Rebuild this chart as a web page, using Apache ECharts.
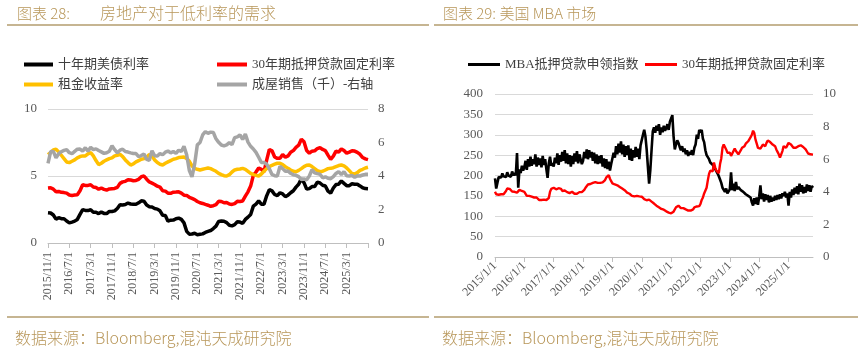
<!DOCTYPE html>
<html>
<head>
<meta charset="utf-8">
<script src="https://cdn.jsdelivr.net/npm/echarts@6/dist/echarts.min.js"></script>
<style>
  html, body { margin: 0; padding: 0; background: #fff; }
  #main { width: 863px; height: 351px; }
</style>
</head>
<body>
<div id="main"></div>
<script>
  // 图表28: 月度数据 2015/11 - 2025/11
  var treasury10y = [
    2.26, 2.24,
    2.09, 1.78, 1.89, 1.81, 1.81, 1.64, 1.50, 1.56, 1.63, 1.76, 2.14, 2.49,
    2.43, 2.42, 2.48, 2.30, 2.30, 2.19, 2.32, 2.21, 2.20, 2.36, 2.35, 2.40,
    2.58, 2.86, 2.84, 2.87, 2.98, 2.91, 2.89, 2.89, 3.00, 3.15, 3.12, 2.83,
    2.71, 2.68, 2.57, 2.53, 2.40, 2.07, 2.06, 1.63, 1.70, 1.71, 1.81, 1.86,
    1.76, 1.50, 0.87, 0.66, 0.67, 0.73, 0.62, 0.65, 0.68, 0.79, 0.87, 0.93,
    1.08, 1.26, 1.61, 1.64, 1.62, 1.52, 1.32, 1.28, 1.37, 1.58, 1.56, 1.47,
    1.76, 1.93, 2.13, 2.75, 2.90, 3.14, 2.90, 2.90, 3.52, 3.98, 3.89, 3.62,
    3.53, 3.75, 3.66, 3.46, 3.57, 3.75, 3.90, 4.17, 4.38, 4.80, 4.50, 4.02,
    4.06, 4.21, 4.21, 4.54, 4.48, 4.31, 4.25, 3.87, 3.72, 4.10, 4.36, 4.39,
    4.63, 4.45, 4.28, 4.28, 4.42, 4.38, 4.39, 4.26, 4.12, 4.06, 4.05
  ]
  var mortgageMonthly = [
    4.10, 4.12,
    4.02, 3.82, 3.85, 3.78, 3.76, 3.72, 3.58, 3.55, 3.58, 3.60, 3.90, 4.35,
    4.30, 4.30, 4.35, 4.18, 4.14, 4.02, 4.10, 4.00, 3.95, 4.03, 4.05, 4.07,
    4.15, 4.45, 4.56, 4.60, 4.72, 4.70, 4.65, 4.67, 4.75, 4.95, 5.00, 4.76,
    4.56, 4.47, 4.37, 4.24, 4.17, 3.90, 3.87, 3.72, 3.71, 3.79, 3.80, 3.82,
    3.72, 3.57, 3.55, 3.41, 3.33, 3.24, 3.10, 3.00, 2.95, 2.88, 2.82, 2.74,
    2.78, 2.86, 3.12, 3.10, 3.00, 3.02, 2.91, 2.88, 2.94, 3.11, 3.10, 3.14,
    3.50, 3.82, 4.25, 5.05, 5.30, 5.60, 5.50, 5.30, 6.18, 6.98, 6.88, 6.42,
    6.32, 6.32, 6.60, 6.40, 6.50, 6.78, 6.90, 7.14, 7.30, 7.75, 7.55, 6.90,
    6.70, 6.85, 6.88, 7.05, 7.12, 6.98, 6.90, 6.56, 6.24, 6.48, 6.86, 6.78,
    7.02, 6.90, 6.70, 6.78, 6.88, 6.86, 6.76, 6.62, 6.38, 6.28, 6.22
  ]
  var rentYield = [
    6.60, 6.75,
    6.95, 7.00, 6.80, 6.55, 6.30, 6.05, 6.00, 6.10, 6.20, 6.35, 6.45, 6.50,
    6.50, 6.65, 6.75, 6.50, 6.15, 5.85, 5.95, 6.10, 6.20, 6.30, 6.35, 6.50,
    6.55, 6.62, 6.45, 6.20, 6.00, 5.82, 5.90, 6.05, 6.15, 6.25, 6.30, 6.40,
    6.60, 6.50, 6.20, 6.00, 5.88, 5.82, 5.95, 6.05, 6.15, 6.25, 6.30, 6.38,
    6.40, 6.42, 6.30, 6.10, 5.75, 5.57, 5.50, 5.45, 5.50, 5.55, 5.60, 5.55,
    5.45, 5.35, 5.20, 5.10, 5.02, 5.00, 5.10, 5.30, 5.45, 5.50, 5.52, 5.57,
    5.50, 5.35, 5.20, 5.10, 5.05, 5.00, 5.15, 5.35, 5.55, 5.70, 5.80, 5.88,
    5.95, 5.95, 5.85, 5.70, 5.57, 5.45, 5.35, 5.32, 5.42, 5.55, 5.70, 5.80,
    5.82, 5.70, 5.55, 5.40, 5.32, 5.35, 5.45, 5.55, 5.57, 5.62, 5.70, 5.78,
    5.82, 5.75, 5.60, 5.40, 5.18, 5.15, 5.25, 5.42, 5.50, 5.60, 5.65
  ]
  var homeSales = [
    4.76, 5.46,
    5.47, 5.08, 5.33, 5.45, 5.53, 5.57, 5.39, 5.33, 5.47, 5.60, 5.61, 5.49,
    5.69, 5.48, 5.71, 5.57, 5.62, 5.52, 5.44, 5.35, 5.39, 5.48, 5.81, 5.57,
    5.38, 5.54, 5.60, 5.46, 5.43, 5.38, 5.34, 5.34, 5.15, 5.22, 5.32, 4.99,
    4.94, 5.51, 5.21, 5.19, 5.34, 5.27, 5.42, 5.49, 5.38, 5.46, 5.35, 5.54,
    5.46, 5.77, 5.27, 4.33, 3.95, 4.72, 5.86, 6.00, 6.45, 6.65, 6.55, 6.62,
    6.60, 6.22, 6.01, 5.85, 5.80, 5.86, 5.99, 5.88, 6.29, 6.34, 6.46, 6.18,
    6.50, 6.02, 5.77, 5.61, 5.41, 5.12, 4.81, 4.80, 4.71, 4.43, 4.09, 4.02,
    4.00, 4.58, 4.44, 4.28, 4.30, 4.16, 4.07, 4.04, 3.96, 3.79, 3.82, 3.78,
    4.00, 4.38, 4.19, 4.14, 4.11, 3.89, 3.95, 3.86, 3.84, 3.96, 4.15, 4.26,
    4.08, 4.26, 4.02, 4.00, 4.03, 3.93, 4.01, 4.00, 4.06, 4.10, 4.10
  ]

  // 图表29: 半月数据 2015/1/1 - 2025/11/1
  var mbaIndex = [
    193, 168, 182, 196, 200, 195, 205, 198, 202, 196, 208, 200, 204, 197, 210, 200, 206, 200, 255, 170, 215, 206, 224, 212,
    220, 236, 214, 240, 222, 246, 224, 240, 228, 252, 222, 244, 226, 242, 220, 248, 226, 240, 216, 194, 230, 246, 224, 230,
    222, 244, 230, 254, 226, 250, 234, 258, 236, 262, 230, 254, 228, 250, 222, 248, 228, 254, 234, 260, 230, 252, 240, 228,
    236, 258, 242, 264, 240, 262, 244, 258, 236, 256, 230, 252, 228, 248, 230, 250, 222, 242, 218, 240, 216, 234, 212, 228,
    228, 256, 244, 272, 252, 278, 256, 284, 252, 276, 246, 272, 250, 274, 238, 266, 236, 262, 244, 270, 246, 266, 240, 274,
    278, 300, 312, 296, 264, 222, 180, 214, 262, 308, 318, 305, 322, 310, 326, 300, 318, 306, 322, 310, 316, 326, 312, 332,
    340, 348, 296, 264, 276, 286, 280, 270, 262, 272, 258, 266, 252, 262, 248, 258, 252, 262, 250, 268, 276, 300, 290, 312,
    306, 312, 290, 282, 262, 250, 248, 240, 232, 236, 226, 222, 216, 210, 205, 198, 190, 182, 170, 166, 160, 168, 156, 152,
    166, 208, 164, 180, 162, 184, 166, 172, 168, 164, 162, 160, 156, 154, 150, 150, 146, 146, 134, 126, 144, 130, 146, 128,
    148, 176, 142, 156, 136, 154, 140, 152, 134, 150, 136, 146, 138, 150, 140, 152, 142, 154, 144, 156, 150, 160, 146, 156,
    126, 160, 146, 166, 152, 170, 156, 174, 154, 180, 160, 176, 156, 172, 158, 178, 162, 176, 160, 174, 170
  ]
  var mbaRate = [
    4.00, 3.85, 3.80, 3.82, 3.90, 3.85, 3.82, 3.85, 3.92, 4.05, 4.20, 4.22, 4.18, 4.10, 4.02, 4.00, 4.00, 3.98, 3.95, 4.00, 4.12, 4.10, 4.05, 4.08,
    4.00, 3.90, 3.75, 3.70, 3.75, 3.78, 3.70, 3.68, 3.65, 3.68, 3.65, 3.62, 3.50, 3.48, 3.50, 3.50, 3.52, 3.52, 3.50, 3.55, 3.62, 4.00, 4.18, 4.30,
    4.25, 4.18, 4.15, 4.20, 4.22, 4.25, 4.18, 4.05, 4.02, 4.08, 4.05, 3.98, 3.95, 3.92, 3.98, 4.00, 3.95, 3.88, 3.85, 3.88, 3.95, 3.98, 3.95, 3.98,
    4.02, 4.12, 4.25, 4.35, 4.45, 4.42, 4.48, 4.45, 4.55, 4.62, 4.60, 4.58, 4.55, 4.58, 4.55, 4.55, 4.58, 4.62, 4.72, 4.88, 4.98, 5.02, 4.80, 4.65,
    4.52, 4.48, 4.45, 4.42, 4.40, 4.38, 4.30, 4.25, 4.20, 4.18, 4.10, 4.02, 3.95, 3.90, 3.88, 3.80, 3.75, 3.70, 3.72, 3.75, 3.75, 3.72, 3.72, 3.74,
    3.70, 3.62, 3.55, 3.50, 3.48, 3.55, 3.52, 3.45, 3.40, 3.35, 3.28, 3.22, 3.15, 3.10, 3.05, 3.00, 2.95, 2.92, 2.90, 2.85, 2.80, 2.75, 2.72, 2.70,
    2.68, 2.75, 2.78, 2.85, 3.05, 3.15, 3.15, 3.10, 3.00, 2.98, 3.00, 2.95, 2.92, 2.88, 2.85, 2.88, 2.85, 2.88, 2.92, 3.05, 3.08, 3.10, 3.15, 3.12,
    3.25, 3.50, 3.65, 3.90, 3.95, 4.25, 4.70, 5.10, 5.30, 5.20, 5.25, 5.80, 5.50, 5.30, 5.20, 5.15, 5.70, 6.05, 6.70, 6.90, 7.00, 6.60, 6.40, 6.30,
    6.40, 6.20, 6.15, 6.50, 6.65, 6.50, 6.40, 6.30, 6.40, 6.55, 6.70, 6.75, 6.80, 6.95, 7.00, 7.10, 7.20, 7.35, 7.50, 7.75, 7.60, 7.20, 6.95, 6.70,
    6.65, 6.65, 6.70, 6.90, 6.85, 6.80, 7.00, 7.15, 7.20, 7.05, 6.95, 6.90, 6.90, 6.80, 6.60, 6.45, 6.30, 6.10, 6.15, 6.50, 6.80, 6.75, 6.70, 6.85,
    7.00, 7.05, 6.90, 6.80, 6.70, 6.65, 6.70, 6.80, 6.80, 6.85, 6.85, 6.80, 6.75, 6.70, 6.60, 6.55, 6.35, 6.30, 6.30, 6.25, 6.28
  ]

  // 日期分类
  var leftMonths = []
  for (var i = 0; i < treasury10y.length; i++) {
    var m = 10 + i
    leftMonths.push((2015 + Math.floor(m / 12)) + '/' + (m % 12 + 1) + '/1')
  }
  var rightDates = []
  for (var j = 0; j < mbaIndex.length; j++) {
    var mm = Math.floor(j / 2)
    rightDates.push((2015 + Math.floor(mm / 12)) + '/' + (mm % 12 + 1) + '/' + (j % 2 === 0 ? '1' : '15'))
  }

  var gold = '#b8975a'
  var ruleColor = '#b39c6e'
  var cjk = '"Noto Sans CJK SC"'
  var serif = '"Liberation Serif", "Noto Sans CJK SC"'
  var labelColor = '#595959'
  var gridColor = '#d9d9d9'
  var axisColor = '#bfbfbf'

  function legendItem (name, left, top, iconW, iconH) {
    return {
      data: [name],
      left: left,
      top: top,
      padding: 0,
      icon: 'rect',
      itemWidth: iconW,
      itemHeight: iconH,
      itemGap: 0,
      textStyle: { fontSize: 13, color: '#404040', fontFamily: serif }
    }
  }

  function valueAxis (gridIndex, max, interval, pos, margin, split) {
    return {
      type: 'value',
      gridIndex: gridIndex,
      position: pos,
      min: 0,
      max: max,
      interval: interval,
      axisLine: { show: false },
      axisTick: { show: false },
      axisLabel: { color: labelColor, fontSize: 13, fontFamily: serif, margin: margin },
      splitLine: { show: split, lineStyle: { color: gridColor, width: 1 } }
    }
  }

  var option = {
    backgroundColor: '#fff',
    animation: false,
    graphic: [
      { type: 'text', x: 17, y: 13, style: { text: '图表 28:', fill: gold, fontSize: 15, fontWeight: 300, fontFamily: cjk, verticalAlign: 'middle' } },
      { type: 'text', x: 100, y: 13, style: { text: '房地产对于低利率的需求', fill: gold, fontSize: 16, fontWeight: 300, fontFamily: cjk, verticalAlign: 'middle' } },
      { type: 'text', x: 443, y: 13, style: { text: '图表 29: 美国 MBA 市场', fill: gold, fontSize: 15, fontWeight: 300, fontFamily: cjk, verticalAlign: 'middle' } },
      { type: 'line', shape: { x1: 7, y1: 25, x2: 429, y2: 25 }, style: { stroke: ruleColor, lineWidth: 1.5 } },
      { type: 'line', shape: { x1: 434, y1: 25, x2: 858, y2: 25 }, style: { stroke: ruleColor, lineWidth: 1.5 } },
      { type: 'line', shape: { x1: 7, y1: 317, x2: 429, y2: 317 }, style: { stroke: ruleColor, lineWidth: 1.5 } },
      { type: 'line', shape: { x1: 434, y1: 317, x2: 858, y2: 317 }, style: { stroke: ruleColor, lineWidth: 1.5 } },
      { type: 'text', x: 15, y: 338, style: { text: '数据来源：Bloomberg,混沌天成研究院', fill: gold, fontSize: 16, fontWeight: 300, fontFamily: cjk, verticalAlign: 'middle' } },
      { type: 'text', x: 442, y: 338, style: { text: '数据来源：Bloomberg,混沌天成研究院', fill: gold, fontSize: 16, fontWeight: 300, fontFamily: cjk, verticalAlign: 'middle' } }
    ],
    legend: [
      legendItem('十年期美债利率', 24, 58, 29, 4),
      legendItem('30年期抵押贷款固定利率', 217, 58, 30, 4),
      legendItem('租金收益率', 24, 78, 29, 4),
      legendItem('成屋销售（千）-右轴', 217, 78, 30, 4),
      legendItem('MBA抵押贷款申领指数', 468, 58, 32, 3),
      legendItem('30年期抵押贷款固定利率', 645, 58, 32, 3)
    ],
    grid: [
      { left: 48, top: 109, width: 320, height: 134 },
      { left: 495, top: 94, width: 318, height: 163 }
    ],
    xAxis: [
      {
        type: 'category',
        gridIndex: 0,
        data: leftMonths,
        boundaryGap: false,
        axisLine: { lineStyle: { color: axisColor } },
        axisTick: { length: 5, lineStyle: { color: axisColor }, interval: function (idx) { return idx % 8 === 0 } },
        axisLabel: {
          rotate: 90,
          fontSize: 12,
          fontFamily: serif,
          color: labelColor,
          margin: 9,
          interval: function (idx) { return idx % 8 === 0 && idx < 120 }
        },
        splitLine: { show: false }
      },
      {
        type: 'category',
        gridIndex: 1,
        data: rightDates,
        boundaryGap: false,
        axisLine: { lineStyle: { color: axisColor } },
        axisTick: { length: 5, lineStyle: { color: axisColor }, interval: function (idx) { return idx % 24 === 0 } },
        axisLabel: {
          rotate: 45,
          fontSize: 12,
          fontFamily: serif,
          color: labelColor,
          margin: 7,
          interval: function (idx) { return idx % 24 === 0 }
        },
        splitLine: { show: false }
      }
    ],
    yAxis: [
      valueAxis(0, 10, 5, 'left', 11, true),
      valueAxis(0, 8, 2, 'right', 10, false),
      valueAxis(1, 400, 50, 'left', 12, true),
      valueAxis(1, 10, 2, 'right', 10, false)
    ],
    series: [
      { name: '十年期美债利率', type: 'line', xAxisIndex: 0, yAxisIndex: 0, data: treasury10y, showSymbol: false, color: '#000000', lineStyle: { width: 3.5 } },
      { name: '30年期抵押贷款固定利率', type: 'line', xAxisIndex: 0, yAxisIndex: 0, data: mortgageMonthly, showSymbol: false, color: '#ff0000', lineStyle: { width: 3.5 } },
      { name: '租金收益率', type: 'line', xAxisIndex: 0, yAxisIndex: 0, data: rentYield, showSymbol: false, color: '#ffc000', lineStyle: { width: 3.5 } },
      { name: '成屋销售（千）-右轴', type: 'line', xAxisIndex: 0, yAxisIndex: 1, data: homeSales, showSymbol: false, color: '#a5a5a5', lineStyle: { width: 3.5 } },
      { name: 'MBA抵押贷款申领指数', type: 'line', xAxisIndex: 1, yAxisIndex: 2, data: mbaIndex, showSymbol: false, color: '#000000', lineStyle: { width: 2.6 } },
      { name: '30年期抵押贷款固定利率', type: 'line', xAxisIndex: 1, yAxisIndex: 3, data: mbaRate, showSymbol: false, color: '#ff0000', lineStyle: { width: 2.4 } }
    ]
  }

  var chart = echarts.init(document.getElementById('main'))
  chart.setOption(option)
</script>
</body>
</html>
